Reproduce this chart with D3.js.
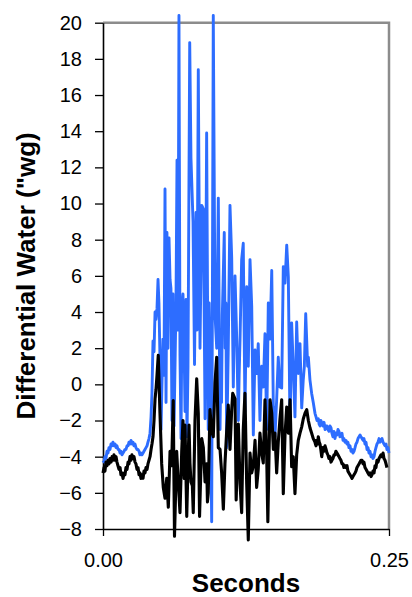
<!DOCTYPE html>
<html>
<head>
<meta charset="utf-8">
<script src="https://cdn.jsdelivr.net/npm/d3@7"></script>
<style>
  html, body { margin: 0; padding: 0; background: #fff; }
  svg { display: block; font-family: "Liberation Sans", Arial, sans-serif; }
</style>
</head>
<body>
<div id="chart"></div>
<script>
// time in ms, pressure in "wg
const blueTime = [0.0, 0.9, 1.7, 2.6, 3.5, 4.4, 5.2, 6.1, 7.0, 7.9, 8.7, 9.6, 10.5, 11.4, 12.2, 13.1, 14.0, 14.9, 15.7, 16.6, 17.5, 18.4, 19.2, 20.1, 21.0, 21.9, 22.7, 23.6, 24.5, 25.3, 26.2, 27.1, 28.0, 28.8, 29.7, 30.6, 31.5, 32.3, 33.2, 34.1, 35.0, 35.8, 36.7, 37.6, 38.5, 39.3, 40.2, 41.1, 42.0, 42.8, 43.7, 44.6, 45.5, 46.3, 47.2, 48.1, 48.9, 49.8, 50.7, 51.6, 52.4, 53.3, 54.2, 55.1, 55.9, 56.8, 57.7, 58.6, 59.4, 60.3, 61.2, 62.1, 62.9, 63.8, 64.7, 65.6, 66.4, 67.3, 68.2, 69.1, 69.9, 70.8, 71.7, 72.6, 73.4, 74.3, 75.8, 76.9, 78.7, 80.0, 81.3, 82.2, 83.3, 84.8, 86.3, 87.7, 89.2, 90.6, 92.0, 92.8, 93.5, 95.0, 96.4, 97.9, 99.4, 100.8, 102.3, 103.0, 103.6, 104.3, 106.0, 106.8, 107.4, 108.1, 109.5, 111.0, 112.5, 113.9, 115.4, 116.9, 118.3, 119.0, 119.8, 121.2, 122.6, 124.1, 125.6, 127.0, 128.5, 130.0, 131.4, 132.9, 134.3, 135.7, 137.2, 138.7, 140.1, 141.6, 143.1, 144.5, 146.0, 147.5, 148.9, 150.3, 151.8, 153.2, 154.7, 156.2, 157.6, 159.1, 160.6, 162.0, 163.5, 164.9, 166.3, 167.8, 169.3, 170.7, 172.2, 173.7, 175.0, 176.0, 177.2, 178.9, 179.5, 180.9, 182.4, 183.8, 185.3, 186.2, 187.1, 188.2, 188.9, 189.7, 190.4, 191.2, 192.3, 193.2, 194.1, 195.0, 195.8, 196.6, 197.5, 198.4, 199.3, 200.1, 201.0, 201.9, 202.8, 203.6, 204.5, 205.4, 206.3, 207.1, 208.0, 208.9, 209.8, 210.6, 211.5, 212.4, 213.3, 214.1, 215.0, 215.9, 216.8, 217.7, 218.5, 219.4, 220.3, 221.1, 222.0, 222.9, 223.8, 224.7, 225.5, 226.4, 227.3, 228.1, 229.0, 229.9, 230.8, 231.6, 232.5, 233.4, 234.3, 235.1, 236.0, 236.9, 237.8, 238.6, 239.5, 240.4, 241.3, 242.1, 243.0, 243.9, 244.8, 245.6, 246.5, 247.4, 248.2, 249.1, 250.0];
const blueValue = [-4.2, -4.3, -4.0, -4.1, -3.7, -3.8, -3.5, -3.6, -3.3, -3.4, -3.2, -3.4, -3.3, -3.5, -3.4, -3.6, -3.6, -3.8, -3.7, -3.9, -3.8, -3.7, -3.6, -3.6, -3.4, -3.4, -3.2, -3.3, -3.1, -3.3, -3.2, -3.4, -3.3, -3.5, -3.6, -3.6, -3.7, -3.9, -3.8, -3.9, -3.8, -3.7, -3.6, -3.5, -3.4, -3.2, -3.0, -2.7, -1.8, -0.5, 2.4, 1.8, 4.0, 3.6, 4.2, 5.8, 4.5, 1.5, -2.5, 0.2, 2.5, 0.5, 10.8, -1.0, 8.4, 2.0, 8.1, 5.8, 5.3, -2.0, 5.0, -2.3, 0.8, 4.4, 12.4, 3.0, 20.4, 1.6, -3.0, 4.4, 5.0, 2.5, -1.5, 4.7, -2.9, 1.0, 18.9, 12.5, 9.0, 1.1, 9.5, 3.0, 17.4, 2.0, 9.9, 9.7, -1.9, 13.9, -2.5, 4.5, 2.0, -7.6, 20.4, 3.85, 2.0, 10.3, -2.5, 1.0, -1.0, 3.8, 8.4, 2.0, 4.5, -3.5, 2.0, 9.9, 7.0, -0.15, 6.0, 2.5, -2.0, 0.5, 2.5, 6.9, 7.8, -1.5, 5.4, 1.0, 6.9, 4.3, -2.8, 1.9, 0.6, 2.25, -2.0, 1.0, -0.15, 2.8, -2.5, 4.5, 2.5, 6.3, -1.25, -2.9, -0.85, 1.5, -0.15, -0.2, 6.5, 5.6, 7.7, 5.95, -2.6, 3.4, 1.0, -1.8, 3.45, 0.6, 2.25, -1.3, 0.2, 1.0, 3.9, 1.0, 1.5, 0.25, -0.5, -1.0, -1.6, -1.8, -2.0, -1.9, -2.2, -2.3, -2.0, -2.1, -2.3, -2.1, -2.5, -2.3, -2.3, -2.5, -2.6, -2.3, -2.4, -2.7, -2.9, -2.6, -3.0, -2.7, -2.8, -2.5, -2.6, -2.9, -2.8, -2.7, -3.1, -3.0, -3.2, -3.1, -3.3, -3.2, -3.5, -3.4, -3.7, -3.6, -3.8, -3.7, -3.5, -3.3, -3.2, -3.0, -2.9, -2.8, -2.9, -3.0, -3.1, -3.0, -3.3, -3.2, -3.6, -3.5, -3.8, -3.7, -4.0, -3.9, -4.1, -4.0, -3.7, -3.5, -3.3, -3.2, -3.0, -3.2, -3.1, -3.0, -3.2, -3.3, -3.4, -3.3, -3.6, -3.5, -3.8];

const blackTime = [0.0, 0.9, 1.7, 2.6, 3.5, 4.4, 5.2, 6.1, 7.0, 7.9, 8.7, 9.6, 10.5, 11.4, 12.2, 13.1, 14.0, 14.9, 15.7, 16.6, 17.5, 18.4, 19.2, 20.1, 21.0, 21.9, 22.7, 23.6, 24.5, 25.3, 26.2, 27.1, 28.0, 28.8, 29.7, 30.6, 31.5, 32.3, 33.2, 34.1, 35.0, 35.8, 36.7, 37.6, 38.5, 39.3, 40.2, 41.1, 42.0, 42.8, 43.7, 44.6, 45.5, 46.3, 47.2, 48.3, 49.8, 51.3, 52.7, 54.2, 55.7, 57.1, 58.6, 60.0, 61.4, 62.5, 64.4, 65.8, 67.3, 68.8, 69.9, 71.0, 71.7, 73.2, 75.2, 76.0, 76.9, 78.1, 78.9, 80.4, 81.9, 83.3, 84.4, 86.3, 87.7, 89.2, 90.6, 91.3, 92.0, 93.5, 95.0, 96.4, 97.9, 99.4, 100.8, 102.3, 103.7, 105.2, 106.6, 108.1, 109.5, 111.0, 112.5, 113.4, 115.4, 116.4, 118.3, 119.8, 121.2, 122.6, 124.1, 125.6, 127.0, 128.5, 130.0, 131.4, 132.9, 134.3, 135.7, 137.2, 138.7, 140.1, 141.6, 143.1, 144.1, 146.0, 147.5, 148.9, 150.3, 151.8, 153.2, 154.7, 156.2, 157.6, 159.1, 160.6, 162.0, 163.5, 164.9, 166.3, 167.8, 169.3, 170.7, 172.2, 173.7, 175.1, 176.6, 178.1, 179.5, 180.9, 182.4, 183.8, 185.3, 186.2, 186.8, 187.5, 188.2, 189.0, 189.7, 190.4, 191.2, 192.3, 193.2, 194.1, 195.0, 195.8, 196.6, 197.5, 198.4, 199.3, 200.1, 201.0, 201.9, 202.8, 203.6, 204.5, 205.4, 206.3, 207.1, 208.0, 208.9, 209.8, 210.6, 211.5, 212.4, 213.3, 214.1, 215.0, 215.9, 216.8, 217.7, 218.5, 219.4, 220.3, 221.1, 222.0, 222.9, 223.8, 224.7, 225.5, 226.4, 227.3, 228.1, 229.0, 229.9, 230.8, 231.6, 232.5, 233.4, 234.3, 235.1, 236.0, 236.9, 237.8, 238.6, 239.5, 240.4, 241.3, 242.1, 243.0, 243.9, 244.8, 245.6, 246.5, 247.4, 248.2, 249.1, 250.0];
const blackValue = [-4.9, -4.6, -4.8, -4.3, -4.5, -4.2, -4.4, -4.1, -4.3, -4.0, -4.2, -3.9, -4.2, -4.0, -4.3, -4.5, -4.7, -4.6, -5.0, -4.9, -5.2, -4.9, -5.0, -4.6, -4.7, -4.3, -4.4, -4.0, -4.2, -3.9, -4.1, -4.0, -4.3, -4.4, -4.7, -4.6, -5.0, -4.9, -5.2, -5.0, -5.2, -4.8, -4.9, -4.6, -4.7, -4.4, -4.2, -4.0, -3.6, -3.3, -2.9, -2.0, -0.8, -0.3, 0.5, 1.6, -1.6, -4.4, -5.7, -6.3, -5.2, -6.8, -3.7, -4.5, -0.9, -8.4, -3.7, -5.4, -7.1, -3.7, -2.0, -5.2, -2.25, -7.3, -2.25, -4.35, -5.4, -5.6, -7.1, -2.0, 0.3, -1.6, -7.3, -3.0, -3.5, -5.4, -4.4, -6.5, -6.0, -1.4, -2.6, -2.9, 0.1, 1.5, -3.5, -3.6, -4.9, -6.9, -4.4, -2.6, -1.15, -3.6, -1.4, -0.5, -0.8, -6.4, -2.2, -5.5, -7.1, -2.5, -0.5, -5.5, -8.6, -3.8, -4.9, -4.5, -3.1, -5.7, -4.7, -2.7, -3.8, -4.35, -0.85, -4.0, -7.6, -0.85, -1.6, -3.6, -2.7, -4.9, -3.2, -1.9, -0.85, -6.05, -2.8, -1.25, -2.7, -0.85, -4.55, -4.0, -6.05, -3.9, -3.1, -2.7, -2.35, -1.9, -1.6, -1.4, -2.0, -2.4, -2.7, -3.0, -3.2, -3.4, -3.1, -3.3, -2.9, -3.2, -3.3, -3.6, -4.0, -3.5, -3.7, -3.4, -3.6, -3.8, -3.9, -4.1, -4.0, -4.3, -4.2, -4.1, -3.9, -3.9, -3.7, -3.8, -3.9, -4.0, -4.1, -4.2, -4.4, -4.4, -4.6, -4.5, -4.6, -4.5, -4.8, -4.9, -5.0, -5.1, -5.2, -5.1, -5.0, -4.9, -4.8, -4.6, -4.5, -4.4, -4.3, -4.2, -4.2, -4.4, -4.3, -4.6, -4.7, -4.8, -4.9, -5.0, -4.9, -5.1, -5.0, -4.8, -4.9, -4.5, -4.6, -4.2, -4.3, -4.1, -4.0, -3.9, -4.0, -3.8, -4.1, -4.2, -4.4, -4.6];

const yTickValues = [-8, -6, -4, -2, 0, 2, 4, 6, 8, 10, 12, 14, 16, 18, 20];
const xTickValues = [0, 250];
const xTickLabels = ["0.00", "0.25"];

const width = 412;
const height = 597;
const margin = { top: 22.7, right: 23, bottom: 68, left: 103 };

const svg = d3.select("#chart")
  .append("svg")
  .attr("width", width)
  .attr("height", height);

const x = d3.scaleLinear()
  .domain([0, 250])
  .range([margin.left, width - margin.right]);

const y = d3.scaleLinear()
  .domain([-8, 20])
  .range([height - margin.bottom, margin.top]);

// gray frame on top and right
svg.append("path")
  .attr("d", `M${x(0)},${y(20)}H${x(250)}V${y(-8)}`)
  .attr("fill", "none")
  .attr("stroke", "#8c8c8c")
  .attr("stroke-width", 2.5);

const yAxis = svg.append("g")
  .attr("transform", `translate(${x(0)},0)`)
  .call(d3.axisLeft(y).tickValues(yTickValues).tickSize(8).tickSizeOuter(0).tickPadding(13));

const xAxis = svg.append("g")
  .attr("transform", `translate(0,${y(-8)})`)
  .call(d3.axisBottom(x).tickValues(xTickValues).tickFormat((d, i) => xTickLabels[i])
    .tickSize(7).tickSizeOuter(0).tickPadding(17));

[yAxis, xAxis].forEach((g) => {
  g.select(".domain").attr("stroke", "#000").attr("stroke-width", 1.6);
  g.selectAll(".tick line").attr("stroke", "#000").attr("stroke-width", 1.3);
  g.selectAll(".tick text")
    .attr("fill", "#000")
    .attr("font-size", 20)
    .attr("font-family", "'Liberation Sans', Arial, sans-serif");
});

const line = d3.line()
  .x((d) => x(d[0]))
  .y((d) => y(d[1]));

svg.append("path")
  .datum(d3.zip(blueTime, blueValue))
  .attr("fill", "none")
  .attr("stroke", "#2d6dff")
  .attr("stroke-width", 2.9)
  .attr("stroke-linejoin", "round")
  .attr("d", line);

svg.append("path")
  .datum(d3.zip(blackTime, blackValue))
  .attr("fill", "none")
  .attr("stroke", "#000")
  .attr("stroke-width", 3.1)
  .attr("stroke-linejoin", "round")
  .attr("d", line);

svg.append("text")
  .attr("x", (x(0) + x(250)) / 2)
  .attr("y", 592)
  .attr("text-anchor", "middle")
  .attr("font-size", 26)
  .attr("font-weight", "bold")
  .text("Seconds");

svg.append("text")
  .attr("transform", `translate(35,${(y(-8) + y(20)) / 2}) rotate(-90)`)
  .attr("text-anchor", "middle")
  .attr("font-size", 26)
  .attr("font-weight", "bold")
  .text("Differential Water (\"wg)");
</script>
</body>
</html>
